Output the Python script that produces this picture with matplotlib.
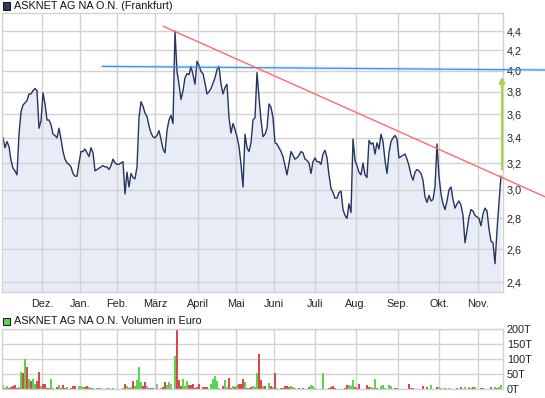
import numpy as np
import matplotlib
matplotlib.use("Agg")
import matplotlib.pyplot as plt
from matplotlib.patches import Rectangle
from matplotlib.ticker import NullLocator

plt.rcParams['font.family'] = ['Liberation Sans', 'DejaVu Sans']

# Chart texts
PRICE_TITLE = 'ASKNET AG NA O.N. (Frankfurt)'
VOLUME_TITLE = 'ASKNET AG NA O.N. Volumen in Euro'

# Month labels and the trading day on which each month starts
months = ['Dez.', 'Jan.', 'Feb.', 'März', 'April', 'Mai', 'Juni', 'Juli', 'Aug.', 'Sep.', 'Okt.', 'Nov.']
month_start = [19.5, 38.5, 57, 76, 97.5, 116.5, 135.5, 156, 176.5, 197.5, 218, 237.5]

# Daily closing prices (EUR)
price = [
    3.40, 3.32, 3.37, 3.33, 3.22, 3.16, 3.14, 3.11, 3.43, 3.62,
    3.68, 3.70, 3.72, 3.78, 3.78, 3.81, 3.83, 3.81, 3.48, 3.54,
    3.79, 3.69, 3.55, 3.55, 3.51, 3.43, 3.42, 3.40, 3.48, 3.39,
    3.29, 3.23, 3.20, 3.19, 3.17, 3.12, 3.10, 3.10, 3.20, 3.29,
    3.29, 3.31, 3.28, 3.25, 3.32, 3.28, 3.14, 3.15, 3.16, 3.17,
    3.18, 3.17, 3.17, 3.15, 3.18, 3.23, 3.20, 3.19, 3.19, 3.20,
    3.21, 2.97, 3.13,
    3.02, 3.12, 3.09, 3.08, 3.17, 3.57, 3.71, 3.67, 3.61, 3.58,
    3.50, 3.44, 3.41, 3.40, 3.42, 3.46, 3.39, 3.31, 3.28, 3.46,
    3.55, 3.59, 3.52, 4.40, 3.99, 3.87, 3.73, 3.81, 3.93, 3.97,
    3.96, 4.04, 3.96, 3.87, 4.09, 4.05, 3.99, 3.97, 3.88, 3.78,
    3.80, 3.83, 3.88, 3.93, 4.01, 4.04, 3.87, 3.78, 3.84, 3.87,
    3.57, 3.44, 3.52, 3.47, 3.41, 3.33, 3.19, 3.02, 3.43, 3.32,
    3.29, 3.36,
    3.55, 3.57, 3.98, 3.75, 3.55, 3.41, 3.43, 3.48, 3.69, 3.66,
    3.57, 3.36, 3.35, 3.32, 3.29, 3.25, 3.18, 3.11, 3.20, 3.29,
    3.26, 3.23, 3.24, 3.26, 3.29, 3.28, 3.23, 3.22, 3.20, 3.12,
    3.21, 3.24, 3.21, 3.21, 3.19, 3.27, 3.30, 3.24, 3.11, 3.01,
    2.98, 2.94, 2.94, 2.98, 2.99, 2.86, 2.82, 2.80, 2.90, 2.84,
    3.39, 3.22, 3.18, 3.13, 3.11, 3.20, 3.11, 3.09, 3.38, 3.35,
    3.36, 3.27,
    3.36, 3.31, 3.43, 3.37, 3.22, 3.12, 3.28, 3.37, 3.40, 3.42,
    3.39, 3.24, 3.25, 3.26, 3.27, 3.23, 3.18, 3.11, 3.07, 3.13,
    3.15, 3.14, 3.12, 3.07, 2.95, 2.91, 2.96, 2.92, 2.93, 3.02,
    3.35, 3.10, 2.97, 2.90, 2.86, 2.92, 3.00, 3.02, 2.93, 2.87,
    2.90, 2.92, 2.89, 2.82, 2.64, 2.72, 2.81, 2.86, 2.85, 2.82,
    2.81, 2.80, 2.75, 2.83, 2.87, 2.85, 2.73, 2.65, 2.64, 2.51,
    2.72, 2.91, 3.10,
]
price_ticks = [2.4, 2.6, 2.8, 3.0, 3.2, 3.4, 3.6, 3.8, 4.0, 4.2, 4.4]

# Traded volume in thousand EUR (only days with trading); g = up, r = down, n = unchanged
vol_day = [
    0, 1, 2, 3, 4, 5, 6, 7, 8, 9,
    10, 11, 12, 13, 14, 15, 16, 17, 18, 19,
    20, 21, 22, 23, 24, 25, 27, 28, 29, 30,
    31, 32, 34, 35, 36, 38, 39, 40, 41, 42,
    43, 44, 45, 47, 48, 49, 52, 53, 55, 60,
    61, 62, 63, 64, 65, 66, 67, 68, 69, 70,
    71, 72, 73, 74, 75, 77, 79, 80, 81, 82,
    83, 84, 86, 87, 88, 89, 90, 91, 92, 93,
    94, 95, 96, 97, 98, 100, 101, 102, 104, 105,
    106, 107, 108, 110, 111, 112, 113, 114, 115, 116,
    117, 118, 119, 120, 121, 122, 123, 124, 125, 126,
    127, 128, 129, 130, 131, 133, 134, 135, 136, 137,
    139, 140, 141, 142, 143, 144, 145, 146, 148, 150,
    153, 154, 155, 156, 160, 163, 164, 165, 166, 171,
    172, 173, 174, 175, 176, 177, 178, 182, 183, 184,
    185, 186, 187, 189, 190, 191, 193, 194, 196, 197,
    203, 204, 205, 210, 212, 214, 217, 218, 219, 221,
    223, 227, 229, 231, 233, 234, 235, 236, 239, 240,
    244, 246, 247, 248, 249,
]
vol_amount = [
    11, 3, 9, 3, 7, 9, 12, 3, 5, 56,
    53, 99, 74, 34, 27, 34, 16, 27, 57, 9,
    16, 16, 3, 3, 34, 3, 7, 11, 3, 12,
    3, 6, 3, 9, 9, 9, 9, 6, 6, 9,
    6, 3, 3, 3, 3, 3, 3, 3, 3, 3,
    16, 9, 3, 6, 27, 9, 29, 74, 22, 9,
    22, 9, 3, 3, 3, 16, 3, 6, 22, 12,
    22, 16, 110, 198, 29, 9, 34, 9, 26, 12,
    12, 16, 3, 6, 16, 6, 6, 6, 16, 34,
    43, 26, 3, 9, 29, 6, 36, 3, 9, 7,
    12, 16, 16, 33, 22, 3, 3, 7, 9, 6,
    53, 117, 29, 9, 9, 19, 9, 7, 53, 3,
    3, 3, 9, 9, 7, 9, 7, 3, 3, 3,
    7, 12, 9, 3, 53, 3, 7, 9, 3, 3,
    12, 12, 9, 29, 6, 3, 16, 12, 7, 6,
    3, 34, 3, 9, 12, 3, 12, 9, 3, 3,
    16, 3, 3, 9, 6, 12, 6, 7, 3, 3,
    3, 3, 7, 7, 7, 3, 6, 7, 3, 3,
    6, 6, 3, 6, 11,
]
vol_dir = ('grgrrrrrgg' 'rgrgrggrrg' 'rrrrggrgrr' 'rgrrrgggrr' 'grggggnggg'
           'rgrgrggggr' 'rnrrrngrrg' 'gngrrrgggr' 'rrrrrrrrgg' 'gggrgnrrgr'
           'grrrgrrrgg' 'grrgrgrgrg' 'rrrrrgggrr' 'rggggrrrrr' 'rgggrrrrrg'
           'rgrgggggrr' 'rrrrrgrggr' 'grrgggrgrr' 'rgrgg')
volume_ticks = [0, 50, 100, 150, 200]

# Drawn analysis: falling trend line, resistance line, target arrow
trend_day = [80.2, 271]
trend_price = [4.45, 2.95]
resist_day = [49.8, 271]
resist_price = [4.04, 4.005]
arrow_day = 249.5
arrow_from = 3.15
arrow_to = 3.94

# Colours
LINE_COLOR = '#26355f'
FILL_COLOR = '#e8ecf6'
GRID_COLOR = '#d2d2d2'
UP_COLOR = '#5ad44a'
DOWN_COLOR = '#d9484a'
FLAT_COLOR = '#a8a8a8'

fig = plt.figure(figsize=(5.45, 3.98), dpi=100)
W, H = 545.0, 398.0

# Price panel
ax = fig.add_axes([2 / W, 1 - 291.7 / H, 500.5 / W, 278.4 / H])
x = np.arange(len(price))
ymin, ymax = 2.346, 4.592
ax.set_yscale('log')
ax.fill_between(x, price, ymin, color=FILL_COLOR, lw=0, zorder=0.3)
ax.plot(x, price, color=LINE_COLOR, lw=1.0, zorder=2)

# resistance line with a faint halo, trend line and target arrow
ax.plot(resist_day, resist_price, color='#3d8ef0', lw=2.6, alpha=0.15, clip_on=False, zorder=3)
ax.plot(resist_day, resist_price, color='#3d8ef0', lw=0.9, clip_on=False, zorder=3)
ax.plot(trend_day, trend_price, color='#ff6b6b', lw=1.0, clip_on=False, zorder=3)
ax.annotate('', xy=(arrow_day, arrow_to), xytext=(arrow_day, arrow_from),
            arrowprops=dict(arrowstyle='-|>', color='#a8d84a', lw=1.6,
                            mutation_scale=8, shrinkA=0, shrinkB=0), zorder=4)

ax.set_xlim(-0.5, 249.75)
ax.set_ylim(ymin, ymax)
ax.set_yticks(price_ticks)
ax.yaxis.set_minor_locator(NullLocator())
ax.set_yticklabels([f'{v:.1f}'.replace('.', ',') for v in price_ticks])
ax.yaxis.tick_right()
ax.set_xticks(month_start)
ax.set_xticklabels(months)
ax.tick_params(axis='both', length=0, labelsize=7.8, colors='#222222')
ax.tick_params(axis='y', pad=3)
ax.tick_params(axis='x', pad=5)
ax.set_axisbelow(True)
ax.grid(True, color=GRID_COLOR, lw=1.0)
for s in ax.spines.values():
    s.set_color(GRID_COLOR)
    s.set_linewidth(1.0)

# Volume panel
axv = fig.add_axes([2 / W, 1 - 388.7 / H, 500.5 / W, 59.4 / H])
colors = [UP_COLOR if d == 'g' else DOWN_COLOR if d == 'r' else FLAT_COLOR for d in vol_dir]
axv.bar(vol_day, vol_amount, width=0.55, color=colors, lw=0, zorder=2)
axv.set_xlim(-0.5, 249.75)
axv.set_ylim(0, 200)
axv.set_yticks(volume_ticks)
axv.set_yticklabels([f'{v}T' for v in volume_ticks])
axv.yaxis.tick_right()
axv.set_xticks(month_start)
axv.set_xticklabels([])
axv.tick_params(axis='both', length=0, labelsize=7.8, colors='#222222')
axv.tick_params(axis='y', pad=3)
axv.set_axisbelow(True)
axv.grid(True, color=GRID_COLOR, lw=1.0)
for s in axv.spines.values():
    s.set_color(GRID_COLOR)
    s.set_linewidth(1.0)

# Legend boxes above each panel
fig.patches.append(Rectangle((2.5 / W, 1 - 9.5 / H), 7 / W, 7 / H, transform=fig.transFigure,
                             facecolor='#2b3a67', edgecolor='#111111', lw=0.7))
fig.text(14 / W, 1 - 6 / H, PRICE_TITLE, va='center', ha='left', fontsize=7.8, color='#111111')
fig.patches.append(Rectangle((3 / W, 1 - 325 / H), 7 / W, 7 / H, transform=fig.transFigure,
                             facecolor=UP_COLOR, edgecolor='#111111', lw=0.7))
fig.text(14 / W, 1 - 321.5 / H, VOLUME_TITLE, va='center', ha='left', fontsize=7.8, color='#111111')

fig.savefig('out.png', dpi=100)
plt.close(fig)
